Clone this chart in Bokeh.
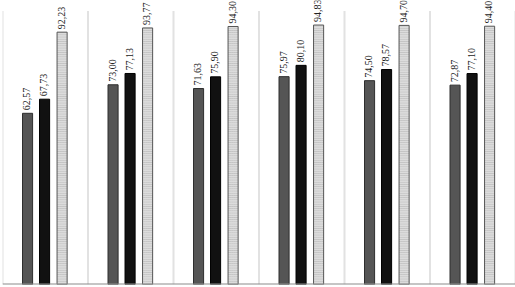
import math
from bokeh.plotting import figure
from bokeh.models import ColumnDataSource, FactorRange, Range1d
from bokeh.transform import dodge
from bokeh.core.properties import value
from bokeh.embed import file_html
from bokeh.resources import INLINE

groups = ["G1", "G2", "G3", "G4", "G5", "G6"]
series_a = [62.57, 73.00, 71.63, 75.97, 74.50, 72.87]
series_b = [67.73, 77.13, 75.90, 80.10, 78.57, 77.10]
series_c = [92.23, 93.77, 94.30, 94.83, 94.70, 94.40]

def fmt(v):
    return f"{v:.2f}".replace(".", ",")

src = ColumnDataSource(dict(
    g=groups, a=series_a, b=series_b, c=series_c,
    la=[fmt(v) for v in series_a],
    lb=[fmt(v) for v in series_b],
    lc=[fmt(v) for v in series_c],
))

p = figure(width=515, height=287, x_range=FactorRange(*groups), y_range=Range1d(0, 103.8),
           output_backend="svg", toolbar_location=None,
           min_border_left=2, min_border_right=0, min_border_top=0, min_border_bottom=3)
p.styles = {"position": "absolute", "left": "0px", "top": "0px"}
p.axis.visible = False
p.grid.visible = False
p.outline_line_color = None
p.background_fill_color = "white"
p.border_fill_color = "white"

# group separators
sep_x = list(range(len(groups) + 1))
p.segment(x0=sep_x, x1=sep_x, y0=[0] * len(sep_x), y1=[100] * len(sep_x),
          line_color="#e2e2e2", line_width=2)

bw = 0.118
offs = [-0.207, -0.008, 0.197]
p.vbar(x=dodge("g", offs[0], range=p.x_range), top="a", width=bw, source=src,
       fill_color="#555555", line_color="#2e2e2e", line_width=1)
p.vbar(x=dodge("g", offs[1], range=p.x_range), top="b", width=bw, source=src,
       fill_color="#111111", line_color="#000000", line_width=1)
p.vbar(x=dodge("g", offs[2], range=p.x_range), top="c", width=bw, source=src,
       fill_color="#dcdcdc", line_color="#555555", line_width=1,
       hatch_pattern="horizontal_line", hatch_color="#a8a8a8", hatch_scale=2.2, hatch_weight=0.6)

# baseline
p.segment(x0=[0], x1=[len(groups)], y0=[0], y1=[0], line_color="#8c8c8c", line_width=2)

for col, lab, o in (("a", "la", offs[0]), ("b", "lb", offs[1]), ("c", "lc", offs[2])):
    p.text(x=dodge("g", o - 0.012, range=p.x_range), y=col, text=lab, source=src,
           angle=math.pi / 2, text_align="left", text_baseline="middle",
           y_offset=-3, text_font=value("Liberation Serif"), text_font_size="10px",
           text_color="#222222")

open("out.html", "w").write(file_html(p, INLINE))
